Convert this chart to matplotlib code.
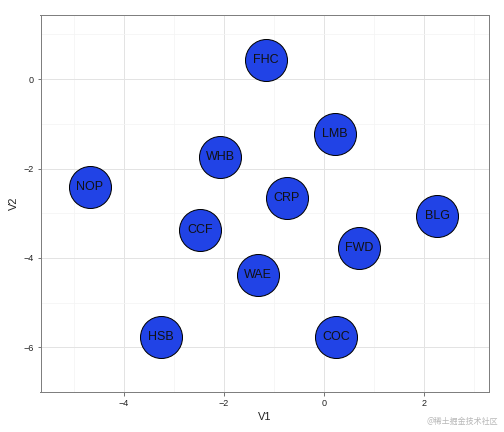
import numpy as np
import matplotlib
matplotlib.use('Agg')
import matplotlib.pyplot as plt

# site codes and their coordinates
labels = ['FHC', 'LMB', 'WHB', 'NOP', 'CRP', 'BLG', 'CCF', 'FWD', 'WAE', 'HSB', 'COC']
v1 = [-1.16, 0.22, -2.08, -4.68, -0.74, 2.26, -2.48, 0.70, -1.32, -3.26, 0.24]
v2 = [0.43, -1.22, -1.74, -2.41, -2.65, -3.07, -3.37, -3.78, -4.39, -5.76, -5.78]

xticks = [-4, -2, 0, 2]
yticks = [0, -2, -4, -6]

plt.rcParams['font.family'] = ['Liberation Sans', 'DejaVu Sans']

fig = plt.figure(figsize=(7, 6), dpi=72)
ax = fig.add_axes([40.5/504, 1 - 392/432, (489 - 40.5)/504, (392 - 14.5)/432])

ax.scatter(v1, v2, s=42**2, c='#2143e6', edgecolors='black', linewidths=1.0, zorder=3)
for lab, x, y in zip(labels, v1, v2):
    ax.text(x, y, lab, ha='center', va='center', fontsize=12.5, color='#111111', zorder=4)

ax.set_xlim(-5.67, 3.3)
ax.set_ylim(-6.76, 1.446)
ax.set_xticks(xticks)
ax.set_yticks(yticks)
ax.set_xticks(np.arange(-5, 3.5, 2), minor=True)
ax.set_yticks(np.arange(-7, 1.5, 2), minor=True)
ax.grid(which='major', color='#e3e3e3', linewidth=1.0)
ax.grid(which='minor', color='#f4f4f4', linewidth=0.8)
ax.set_axisbelow(True)
ax.tick_params(which='major', length=3.5, color='#555555', labelsize=9, labelcolor='#222222')
ax.tick_params(which='minor', length=0)
for sp in ax.spines.values():
    sp.set_color('#7f7f7f')
    sp.set_linewidth(1.0)

ax.set_xlabel('V1', fontsize=11, color='#222222', labelpad=4)
ax.set_ylabel('V2', fontsize=11, color='#222222', labelpad=4)

fig.text(498/504, 1 - 421/432, '@稀土掘金技术社区', ha='right', va='center', fontsize=8,
         color='#b8b8b8', family=['Noto Sans CJK SC', 'DejaVu Sans'])

fig.savefig('out.png', dpi=72)
